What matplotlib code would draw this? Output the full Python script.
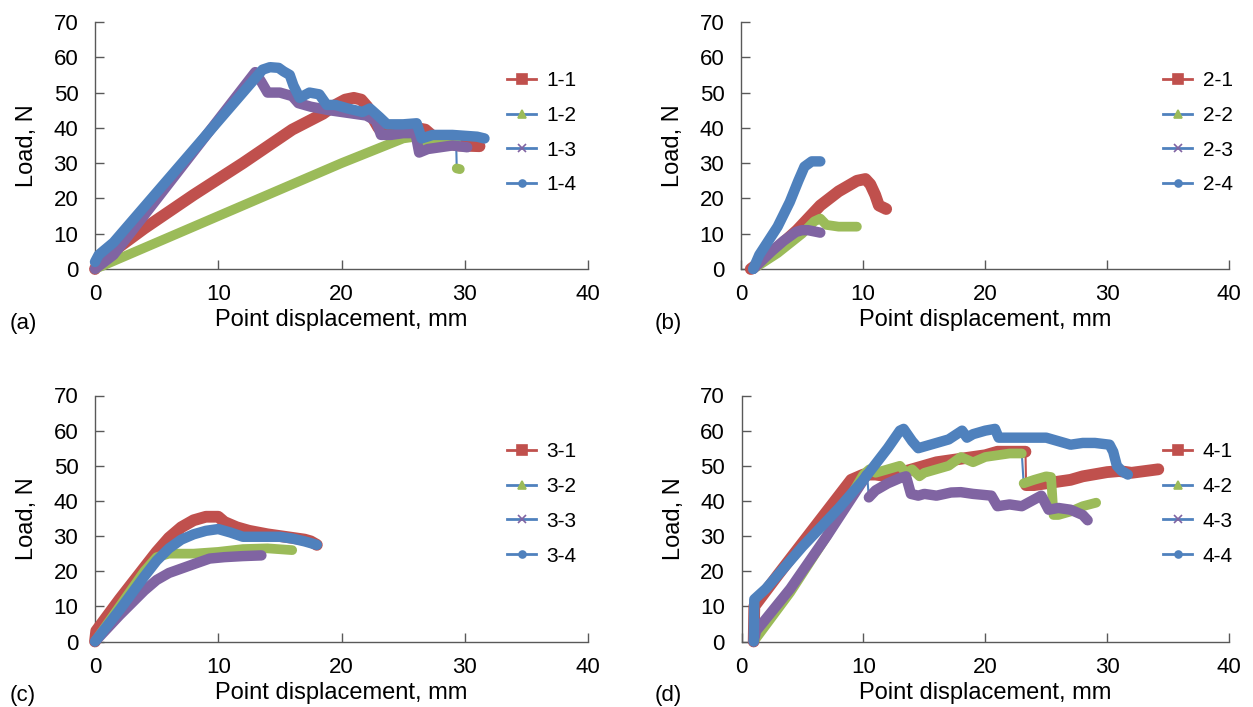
import numpy as np
import matplotlib
matplotlib.use("Agg")
import matplotlib.pyplot as plt
from matplotlib.lines import Line2D

plt.rcParams['font.family'] = ['Liberation Sans', 'DejaVu Sans']

# ---------------- data ----------------
# Panel (a)
s11_x = [0, 0.3, 4, 8, 12, 16, 18.5, 19.5, 20.3, 21, 21.6, 22.1, 22.5, 23, 24, 25, 26, 26.8, 27.3, 27.8, 28.5, 29.5, 31.2]
s11_y = [0, 2, 11.5, 21, 30, 39.5, 44, 46.5, 48, 48.5, 48, 46, 43, 40, 39.5, 39.5, 40, 39.5, 38, 36.5, 35.5, 35, 34.8]
s12_x = [0, 5, 10, 15, 20, 25, 26, 26.4, 27, 28, 29.3, 29.35, 29.6]
s12_y = [0, 7.5, 15, 22.5, 30, 37, 37.5, 35.5, 36, 36.3, 36.5, 28.5, 28.3]
s13_x = [0, 1.5, 13, 13.5, 14, 15, 16, 16.5, 17.5, 19, 20, 21, 22, 22.8, 23.2, 24, 25, 26, 26.3, 27, 28, 29, 30.2]
s13_y = [0, 4, 55.8, 53, 50, 50, 49, 47, 46, 45, 44.5, 44, 43.5, 42, 38, 38, 38.5, 38.5, 33, 34, 34.5, 35, 34.5]
s14_x = [0, 0.3, 1.5, 13.6, 14.2, 14.9, 15.3, 15.8, 16.1, 16.6, 17.4, 18.2, 18.8, 19.5, 20.5, 21.7, 22.3, 23.1, 23.7, 25, 26.1, 26.5, 27.4, 29, 31, 31.6]
s14_y = [2, 4, 7.5, 56.5, 57.2, 57, 56, 55, 52, 48.5, 50, 49.5, 46.5, 46.5, 45.5, 44.5, 45.5, 43, 41, 41, 41.3, 37, 38, 38, 37.5, 37]

# Panel (b)
s21_x = [0.8, 1.2, 3, 4.6, 6.5, 8, 9.5, 10.2, 10.6, 11, 11.3, 11.9]
s21_y = [0, 1, 6, 11, 18, 22, 25, 25.5, 24, 21, 18, 17]
s22_x = [1, 3, 5, 6, 6.5, 7, 8, 9.5]
s22_y = [0, 4.5, 10, 13.5, 14.3, 12.5, 12, 12]
s23_x = [1, 2.5, 3.5, 4.5, 5, 5.5, 6.5]
s23_y = [0, 5, 8, 10.5, 11, 11, 10.3]
s24_x = [1, 1.5, 3, 4, 4.7, 5.2, 5.8, 6.5]
s24_y = [0, 4, 12, 19, 25, 29, 30.5, 30.5]

# Panel (c)
s31_x = [0, 0.1, 2, 4, 5, 6, 7, 8, 9, 10, 10.5, 11.5, 12.5, 14, 15, 16, 17, 17.5, 18]
s31_y = [0, 3, 12, 21, 25.5, 29.5, 32.5, 34.5, 35.5, 35.5, 34, 32.5, 31.5, 30.5, 30, 29.5, 29, 28.5, 27.5]
s32_x = [0, 2, 4, 5, 6, 8, 10, 12, 14, 16]
s32_y = [0, 10, 20, 24, 25, 25, 25.5, 26.3, 26.5, 26]
s33_x = [0, 2, 4, 5, 6, 8, 9.3, 10.5, 12, 13.5]
s33_y = [0, 7.5, 14.5, 17.5, 19.5, 22, 23.6, 24, 24.3, 24.5]
s34_x = [0, 2, 4, 5, 6, 7, 8, 9, 10, 11, 12, 13, 15, 16, 17, 18]
s34_y = [0, 9, 18.5, 23, 26.5, 29, 30.5, 31.5, 32, 31, 29.8, 29.8, 29.8, 29.3, 28.5, 27.5]

# Panel (d)
s41_x = [1, 1.05, 3, 5, 7, 9, 10, 11, 12, 13, 14, 15, 16, 18, 20, 21, 22, 23.3, 23.35, 24, 25.6, 27, 28, 30, 31, 32, 34.2]
s41_y = [0, 10, 19, 28, 37, 46, 47.5, 47.5, 47, 48, 49, 50, 51, 52, 53, 54, 54, 54, 44.5, 44.5, 45.3, 46, 47, 48.2, 48.5, 48, 49]
s42_x = [1, 4, 7, 10, 10.5, 11, 12, 13, 13.5, 14, 14.6, 15, 16, 17, 18, 19, 20, 21, 22, 23, 23.15, 24, 25, 25.4, 25.6, 26, 27, 28, 29.1]
s42_y = [0, 14, 30, 47.5, 49, 48, 49, 50, 48, 49, 47, 48, 49, 50, 52.5, 51, 52.5, 53, 53.5, 53.5, 45, 46, 47, 46.8, 36, 36, 37, 38.5, 39.5]
s43_x = [1, 1.2, 4, 7, 10.3, 10.45, 11, 12, 13, 13.5, 13.9, 14.5, 15, 16, 17.2, 18, 19, 20.5, 21, 22, 23, 24.6, 25.2, 26, 27, 28, 28.4]
s43_y = [0, 3, 15, 30, 47.5, 41, 43, 45, 46.5, 47, 42, 41.5, 42, 41.5, 42.4, 42.5, 42, 41.5, 38.5, 39, 38.5, 41.5, 37.5, 38, 37.5, 36, 34.5]
s44_x = [1, 1.05, 2, 5, 8, 10, 12, 13, 13.3, 14, 14.5, 15.5, 17, 18.1, 18.5, 19, 20, 20.8, 21.1, 23, 25, 26, 27, 28, 29, 30.2, 30.5, 30.8, 31.2, 31.7]
s44_y = [0, 12, 15, 27, 38, 46, 55, 60, 60.5, 57, 55, 56, 57.5, 60, 58, 59, 60, 60.5, 58, 58, 58, 57, 56, 56.5, 56.5, 56, 54, 50, 48.5, 47.5]

# indices after which a thin (unmarked) jump occurs
s12_breaks = [10]
s41_breaks = [17]
s42_breaks = [19]
s43_breaks = [4]

panel_a = [("1-1", s11_x, s11_y, []), ("1-2", s12_x, s12_y, s12_breaks),
           ("1-3", s13_x, s13_y, []), ("1-4", s14_x, s14_y, [])]
panel_b = [("2-1", s21_x, s21_y, []), ("2-2", s22_x, s22_y, []),
           ("2-3", s23_x, s23_y, []), ("2-4", s24_x, s24_y, [])]
panel_c = [("3-1", s31_x, s31_y, []), ("3-2", s32_x, s32_y, []),
           ("3-3", s33_x, s33_y, []), ("3-4", s34_x, s34_y, [])]
panel_d = [("4-1", s41_x, s41_y, s41_breaks), ("4-2", s42_x, s42_y, s42_breaks),
           ("4-3", s43_x, s43_y, s43_breaks), ("4-4", s44_x, s44_y, [])]
panel_tags = ["(a)", "(b)", "(c)", "(d)"]

# ---------------- styles ----------------
RED, GREEN, PURPLE, BLUE = "#C0504D", "#9BBB59", "#8064A2", "#4F81BD"
mark_colors = [RED, GREEN, PURPLE, BLUE]
line_colors = [RED, BLUE, BLUE, BLUE]
markers = ["s", "^", "x", "o"]
msizes = [7, 6, 6, 5]
band_w = [8.5, 7.0, 7.5, 7.5]

W, H = 1253, 707
fig = plt.figure(figsize=(W / 100, H / 100), dpi=100)

# axes boxes in pixels: (left, right, top(y=70), bottom(y=0))
boxes = [(95, 588, 22, 269), (741, 1229, 22, 269),
         (95, 588, 395.5, 641.5), (741.5, 1229, 395.5, 641.5)]
panels = [panel_a, panel_b, panel_c, panel_d]
legend_xy = [(507, 71), (1163, 71), (507, 442), (1163, 442)]
tag_pos = [(10, 323), (655, 323), (10, 695), (655, 695)]

SPINE = "#595959"
for i, (box, series) in enumerate(zip(boxes, panels)):
    l, r, t, b = box
    ax = fig.add_axes([l / W, 1 - b / H, (r - l) / W, (b - t) / H])
    for k, (name, xs, ys, brks) in enumerate(series):
        xs = np.asarray(xs, float)
        ys = np.asarray(ys, float)
        # thin connecting line (seen only at jumps)
        ax.plot(xs, ys, color=line_colors[k], lw=1.5, zorder=2 + k, clip_on=False)
        # thick marker band, broken at the jumps
        xb, yb = list(xs), list(ys)
        for j in sorted(brks, reverse=True):
            xb.insert(j + 1, np.nan)
            yb.insert(j + 1, np.nan)
        ax.plot(xb, yb, color=mark_colors[k], lw=band_w[k], clip_on=False,
                solid_capstyle="round", solid_joinstyle="round", zorder=2.5 + k)
    ax.set_xlim(0, 40)
    ax.set_ylim(0, 70)
    ax.set_xticks([0, 10, 20, 30, 40])
    ax.set_yticks(range(0, 71, 10))
    for sp in ["top", "right"]:
        ax.spines[sp].set_visible(False)
    for sp in ["left", "bottom"]:
        ax.spines[sp].set_color(SPINE)
        ax.spines[sp].set_linewidth(1.0)
        ax.spines[sp].set_zorder(1)
    ax.tick_params(direction="in", length=6.5, width=1.0, color=SPINE,
                   labelsize=16, pad=12, labelcolor="black")
    ax.tick_params(axis="x", pad=11)
    ax.set_xlabel("Point displacement, mm", fontsize=17, labelpad=3)
    ax.set_ylabel("Load, N", fontsize=17, labelpad=11)

    handles = [Line2D([0], [0], color=line_colors[k], lw=2, marker=markers[k],
                      markersize=msizes[k], markerfacecolor=mark_colors[k],
                      markeredgecolor=mark_colors[k], markeredgewidth=1.2)
               for k in range(4)]
    labels = [s[0] for s in series]
    lx, ly = legend_xy[i]
    fig.legend(handles, labels, loc="upper left",
               bbox_to_anchor=(lx / W, 1 - ly / H),
               frameon=False, fontsize=15, handlelength=1.4,
               handletextpad=0.5, labelspacing=0.76, borderaxespad=0,
               borderpad=0)
    fig.text(tag_pos[i][0] / W, 1 - tag_pos[i][1] / H, panel_tags[i],
             fontsize=16, va="center", ha="left")

fig.savefig("out.png", dpi=100)
